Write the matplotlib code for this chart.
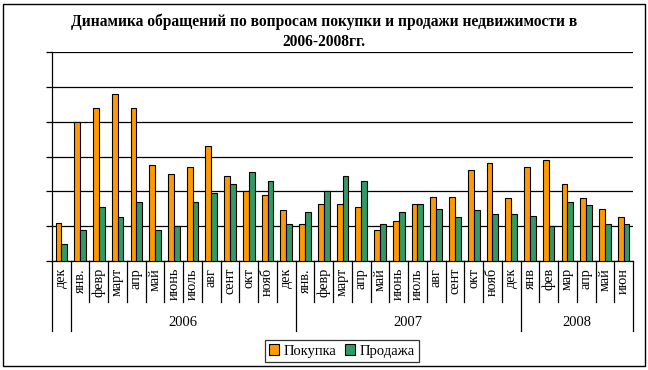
import matplotlib.pyplot as plt
import numpy as np
from matplotlib.patches import Rectangle
from matplotlib.lines import Line2D

# ============================================================
# DATA
# ============================================================
months = ['дек', 'янв.', 'февр', 'март', 'апр', 'май', 'июнь', 'июль', 'авг', 'сент', 'окт', 'нояб', 'дек',
          'янв.', 'февр', 'март', 'апр', 'май', 'июнь', 'июль', 'авг', 'сент', 'окт', 'нояб', 'дек',
          'янв', 'фев', 'мар', 'апр', 'май', 'июн']
years = ['', '2006', '2007', '2008']
year_sizes = [1, 12, 12, 6]

pokupka = [11, 40, 44, 48, 44, 27.5, 25, 27, 33, 24.5, 20, 19, 14.5,
           10.5, 16.5, 16.5, 15.5, 9, 11.5, 16.5, 18.5, 18.5, 26, 28, 18,
           27, 29, 22, 18, 15, 12.5]
prodazha = [5, 9, 15.5, 12.5, 17, 9, 10, 17, 19.5, 22, 25.5, 23, 10.5,
            14, 20, 24.5, 23, 10.5, 14, 16.5, 15, 12.5, 14.5, 13.5, 13.5,
            13, 10, 17, 16, 10.5, 10.5]

# ============================================================
# FIGURE
# ============================================================
W, H = 648, 370
fig = plt.figure(figsize=(W / 100, H / 100), dpi=100)
plt.rcParams['font.family'] = ['Liberation Serif', 'DejaVu Serif']

# outer frame
fig.patches.append(Rectangle((3 / W, 4 / H), 642 / W, 362 / H, transform=fig.transFigure,
                             fill=False, edgecolor='black', linewidth=1.0))

fig.text(324 / W, 1 - 22 / H, 'Динамика обращений по вопросам покупки и продажи недвижимости в',
         ha='center', va='center', fontsize=11.2, fontweight='bold')
fig.text(324 / W, 1 - 42 / H, '2006-2008гг.', ha='center', va='center', fontsize=11.2, fontweight='bold')

x0, x1, ytop, ybot = 52, 633, 52, 261
ax = fig.add_axes([x0 / W, 1 - ybot / H, (x1 - x0) / W, (ybot - ytop) / H])

n = len(months)
x = np.arange(n)
bw = 0.31
ax.bar(x - bw / 2, pokupka, bw, color='#FF9900', edgecolor='black', linewidth=0.8, label='Покупка', zorder=3)
ax.bar(x + bw / 2, prodazha, bw, color='#339966', edgecolor='black', linewidth=0.8, label='Продажа', zorder=3)

ax.set_xlim(-0.5, n - 0.5)
ax.set_ylim(0, 60)
ax.set_yticks(np.arange(0, 61, 10))
ax.set_yticklabels([])
ax.yaxis.grid(True, color='black', linewidth=0.9)
ax.tick_params(axis='y', direction='out', length=4, width=0.9)
ax.set_xticks([])
for s in ['top', 'right']:
    ax.spines[s].set_visible(False)
ax.spines['left'].set_linewidth(0.9)
ax.spines['bottom'].set_linewidth(0.9)

# category labels and separators
trans = ax.get_xaxis_transform()
axh = ybot - ytop
def fy(py):
    return (ybot - py) / axh

for i, m in enumerate(months):
    ax.text(i, fy(268), m, rotation=90, ha='center', va='top', fontsize=10.3, transform=trans)

bounds = np.cumsum([0] + year_sizes) - 0.5
for i in range(n + 1):
    b = i - 0.5
    bottom = 331 if b in bounds else 302
    ax.add_line(Line2D([b, b], [0, fy(bottom)], color='black', linewidth=0.9,
                       transform=trans, clip_on=False))

for k, yl in enumerate(years):
    if yl:
        c = (bounds[k] + bounds[k + 1]) / 2
        ax.text(c, fy(322), yl, ha='center', va='center', fontsize=10.5, transform=trans)

leg = fig.legend(loc='center', bbox_to_anchor=(342 / W, 1 - 351 / H), ncol=2, fontsize=10.5,
                 frameon=True, fancybox=False, edgecolor='black', handlelength=0.7, handleheight=0.7,
                 handletextpad=0.3, columnspacing=0.6, borderpad=0.3, borderaxespad=0)
leg.get_frame().set_linewidth(0.9)

plt.savefig('out.png', dpi=100)
